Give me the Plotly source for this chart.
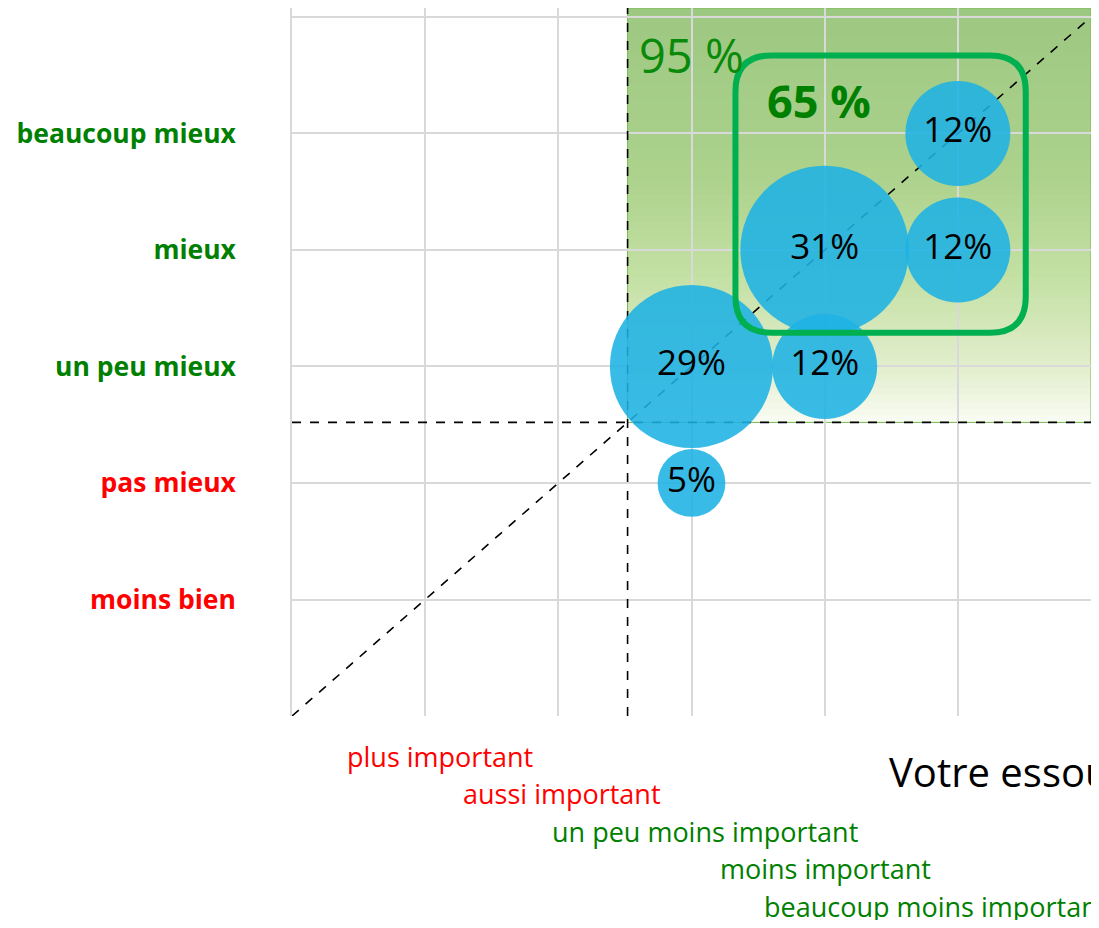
import plotly.graph_objects as go

# bubble data: x = essoufflement level, y = perceived improvement, share in %
bubble_x = [3, 3, 4, 4, 5, 5]
bubble_y = [2, 3, 3, 4, 4, 5]
bubble_pct = [5, 29, 12, 31, 12, 12]

y_labels = ["moins bien", "pas mieux", "un peu mieux", "mieux", "beaucoup mieux"]
y_colors = ["#ff0000", "#ff0000", "#008000", "#008000", "#008000"]

x_labels = ["plus important", "aussi important", "un peu moins important",
            "moins important", "beaucoup moins important"]
x_colors = ["#ff0000", "#ff0000", "#008000", "#008000", "#008000"]

threshold = 2.52
pct_zone = "95 %"
pct_box = "65 %"

FONT = "Open Sans, sans-serif"

fig = go.Figure()

# gradient green zone, built from thin bands drawn below the grid
def band_color(t):
    stops = [(0.0, (250, 252, 244)), (0.12, (228, 239, 207)), (0.35, (196, 224, 164)),
             (0.6, (172, 210, 140)), (1.0, (157, 200, 130))]
    for (t0, c0), (t1, c1) in zip(stops[:-1], stops[1:]):
        if t <= t1:
            f = (t - t0) / (t1 - t0)
            return "rgb(%d,%d,%d)" % tuple(round(a + (b - a) * f) for a, b in zip(c0, c1))
    return "rgb(%d,%d,%d)" % stops[-1][1]

top = 6.077
n = 60
for i in range(n):
    y0 = threshold + (top - threshold) * i / n
    y1 = threshold + (top - threshold) * (i + 1) / n
    fig.add_shape(type="rect", xref="x", yref="y", x0=threshold, x1=6, y0=y0, y1=y1 + 0.01,
                  fillcolor=band_color((i + 0.5) / n), line_width=0, layer="below")
fig.add_shape(type="rect", xref="x", yref="y", x0=threshold, x1=6, y0=threshold, y1=top,
              line=dict(color="rgb(120,185,80)", width=1), layer="below")

# dashed reference lines
dash = dict(color="black", width=1.6, dash="dash")
fig.add_trace(go.Scatter(x=[0, 6], y=[0, 6], mode="lines", line=dash, hoverinfo="skip"))
fig.add_trace(go.Scatter(x=[threshold, threshold], y=[0, top], mode="lines", line=dash,
                         hoverinfo="skip"))
fig.add_trace(go.Scatter(x=[0, 6], y=[threshold, threshold], mode="lines", line=dash,
                         hoverinfo="skip"))

# bubbles
fig.add_trace(go.Scatter(
    x=bubble_x, y=bubble_y, mode="markers+text",
    text=[f"{p}%" for p in bubble_pct], textposition="middle center",
    textfont=dict(family=FONT, size=35, color="black"),
    marker=dict(size=bubble_pct, sizemode="area", sizeref=2 / 30.3 ** 2,
                color="rgb(30,178,228)", opacity=0.88, line_width=0),
    cliponaxis=False, hoverinfo="skip"))

# rounded green frame around the 65 % group
x0, x1, y0, y1 = 3.33, 5.51, 3.29, 5.67
rx, ry = 0.27, 0.31
path = (f"M {x0 + rx},{y1} L {x1 - rx},{y1} Q {x1},{y1} {x1},{y1 - ry} "
        f"L {x1},{y0 + ry} Q {x1},{y0} {x1 - rx},{y0} L {x0 + rx},{y0} "
        f"Q {x0},{y0} {x0},{y0 + ry} L {x0},{y1 - ry} Q {x0},{y1} {x0 + rx},{y1} Z")
fig.add_shape(type="path", path=path, xref="x", yref="y",
              line=dict(color="#00b050", width=6), layer="above")

fig.add_annotation(x=threshold, y=6.0, xref="x", yref="y", text=pct_zone, showarrow=False,
                   xanchor="left", yanchor="top", xshift=9, yshift=-4,
                   font=dict(family=FONT, size=47, color="#0a8a0a"))
fig.add_annotation(x=x0, y=y1, xref="x", yref="y", text=f"<b>{pct_box}</b>", showarrow=False,
                   xanchor="left", yanchor="top", xshift=30, yshift=-13,
                   font=dict(family=FONT, size=45, color="#008000"))

# staggered x labels
x_label_left = [0.40, 1.27, 1.94, 3.20, 3.53]
for i, (t, c) in enumerate(zip(x_labels, x_colors)):
    fig.add_annotation(x=x_label_left[i], y=0, xref="x", yref="paper", text=t,
                       showarrow=False, xanchor="left", yanchor="middle",
                       yshift=-40 - 37.6 * i, font=dict(family=FONT, size=27, color=c))

fig.add_annotation(x=4.47, y=0, xref="x", yref="paper", text="Votre essoufflement",
                   showarrow=False, xanchor="left", yanchor="middle", yshift=-55,
                   font=dict(family=FONT, size=40, color="black"))

# page body adds 8px around the figure, so the figure is sized to fit the window
fig.update_layout(
    width=1083, height=912,
    margin=dict(l=284, r=0, t=0, b=204),
    plot_bgcolor="white", paper_bgcolor="white",
    showlegend=False,
    font=dict(family=FONT),
)
fig.update_xaxes(range=[0, 6], tickvals=[0, 1, 2, 3, 4, 5, 6], showticklabels=False,
                 showgrid=True, gridcolor="#d9d9d9", gridwidth=1.5, zeroline=False,
                 showline=False, fixedrange=True, automargin=False)
fig.update_yaxes(range=[0, top], tickvals=[0, 1, 2, 3, 4, 5, 6],
                 ticktext=[""] + [f"<b><span style='color:{c}'>{t}</span></b>"
                                  for t, c in zip(y_labels, y_colors)] + [""],
                 tickfont=dict(family=FONT, size=26.5), ticklabelstandoff=49,
                 showgrid=True, gridcolor="#d9d9d9", gridwidth=1.5, zeroline=False,
                 showline=True, linecolor="#d9d9d9", linewidth=1.5, fixedrange=True,
                 automargin=False)

fig.write_html("out.html")
